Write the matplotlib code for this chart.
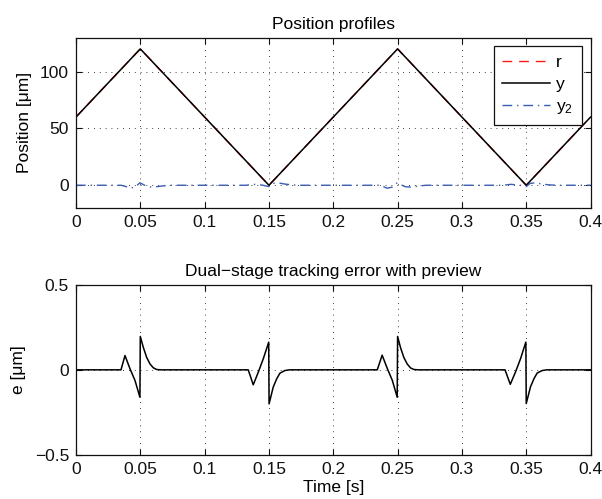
import matplotlib
matplotlib.use("Agg")
import matplotlib.pyplot as plt

# reference r and measured output y (triangle scan), um
t_ref = [0.0, 0.05, 0.15, 0.25, 0.35, 0.4]
r_ref = [60, 120, 0, 120, 0, 60]
y_out = [60, 120, 0, 120, 0, 60]

# secondary stage position y2, um
t_y2 = [0.0, 0.035, 0.0385, 0.042, 0.046, 0.0497, 0.0525, 0.056, 0.060, 0.066, 0.072,
        0.132, 0.138, 0.1445, 0.150, 0.153, 0.157, 0.162, 0.168, 0.175,
        0.235, 0.2385, 0.242, 0.246, 0.2497, 0.2525, 0.256, 0.260, 0.266, 0.272,
        0.332, 0.338, 0.3445, 0.350, 0.353, 0.357, 0.362, 0.368, 0.375, 0.4]
y2 = [0.0, 0.0, -1.0, -2.6, -1.6, 2.2, 0.5, -1.3, -1.6, -0.8, 0.0,
      0.0, 0.8, 0.2, -1.2, 1.6, 2.2, 1.1, 0.3, 0.0,
      0.0, -1.0, -2.6, -1.6, 2.2, 0.5, -1.3, -1.6, -0.8, 0.0,
      0.0, 0.8, 0.2, -1.2, 1.6, 2.2, 1.1, 0.3, 0.0, 0.0]

# tracking error e, um
t_err = [0.0, 0.0350, 0.0381, 0.0420, 0.0459, 0.0497, 0.0500, 0.0523, 0.0549, 0.0575, 0.0601, 0.0627, 0.0660,
         0.1339, 0.1378, 0.1417, 0.1456, 0.1498, 0.1501, 0.1533, 0.1560, 0.1585, 0.1624, 0.1660,
         0.2342, 0.2380, 0.2420, 0.2459, 0.2497, 0.2500, 0.2523, 0.2549, 0.2575, 0.2601, 0.2627, 0.2660,
         0.3335, 0.3376, 0.3417, 0.3456, 0.3497, 0.3500, 0.3533, 0.3560, 0.3585, 0.3624, 0.3660, 0.4]
err = [0.0, 0.0, 0.084, 0.006, -0.063, -0.161, 0.196, 0.133, 0.074, 0.035, 0.012, 0.002, 0.0,
       0.0, -0.088, -0.014, 0.065, 0.162, -0.200, -0.102, -0.053, -0.020, -0.004, 0.0,
       0.0, 0.086, 0.008, -0.062, -0.161, 0.196, 0.130, 0.072, 0.034, 0.011, 0.002, 0.0,
       0.0, -0.085, -0.012, 0.066, 0.163, -0.198, -0.100, -0.052, -0.019, -0.004, 0.0, 0.0]

x_ticks = [0, 0.05, 0.1, 0.15, 0.2, 0.25, 0.3, 0.35, 0.4]
x_ticklabels = ["0", "0.05", "0.1", "0.15", "0.2", "0.25", "0.3", "0.35", "0.4"]

FS = 12.5
plt.rcParams['font.family'] = ['Liberation Sans', 'DejaVu Sans']
plt.rcParams['font.size'] = FS
plt.rcParams['mathtext.fontset'] = 'custom'
plt.rcParams['mathtext.rm'] = 'Liberation Sans'
plt.rcParams['mathtext.it'] = 'Liberation Sans:italic'


def style_axes(ax):
    ax.set_xlim(0, 0.4)
    ax.set_xticks(x_ticks)
    ax.set_xticklabels(x_ticklabels)
    ax.grid(True, color='k', linestyle=(0, (1, 6)), linewidth=0.6)
    ax.tick_params(direction='in', top=True, right=True, length=4, width=0.8,
                   labelsize=FS, pad=5, colors='#111111')
    for sp in ax.spines.values():
        sp.set_linewidth(0.9)
        sp.set_color('#111111')


fig = plt.figure(figsize=(6.02, 4.99), dpi=100)
ax1 = fig.add_axes([0.1262, 0.5832, 0.8548, 0.3416])
ax2 = fig.add_axes([0.1262, 0.0882, 0.8548, 0.3413])

# top: position profiles
ax1.plot(t_ref, r_ref, color='#ff1a1a', linestyle=(0, (7, 5)), linewidth=1.0, label='r')
ax1.plot(t_ref, y_out, color='k', linewidth=1.1, label='y')
ax1.plot(t_y2, y2, color='#3a5cb4', linestyle=(0, (7, 3.5, 1, 3.5)), linewidth=1.0,
         label=r'y$_2$')
style_axes(ax1)
ax1.set_ylim(-20, 130)
ax1.set_yticks([0, 50, 100])
ax1.set_ylabel('Position [μm]', fontsize=FS, labelpad=6)
ax1.set_title('Position profiles', fontsize=FS, pad=6)
leg = ax1.legend(loc='upper right', fancybox=False, framealpha=1, edgecolor='#111111',
                 handlelength=2.75, handletextpad=0.35, borderaxespad=0.5,
                 borderpad=0.5, labelspacing=0.4, fontsize=FS)
leg.get_frame().set_linewidth(0.9)

# bottom: tracking error
ax2.plot(t_err, err, color='k', linewidth=1.1)
style_axes(ax2)
ax2.set_ylim(-0.5, 0.5)
ax2.set_yticks([-0.5, 0, 0.5])
ax2.set_yticklabels(['−0.5', '0', '0.5'])
ax2.set_ylabel('e [μm]', fontsize=FS, labelpad=6)
ax2.set_xlabel('Time [s]', fontsize=FS, labelpad=2)
ax2.set_title('Dual−stage tracking error with preview', fontsize=FS, pad=6)

fig.savefig('out.png', dpi=100)
plt.close(fig)
